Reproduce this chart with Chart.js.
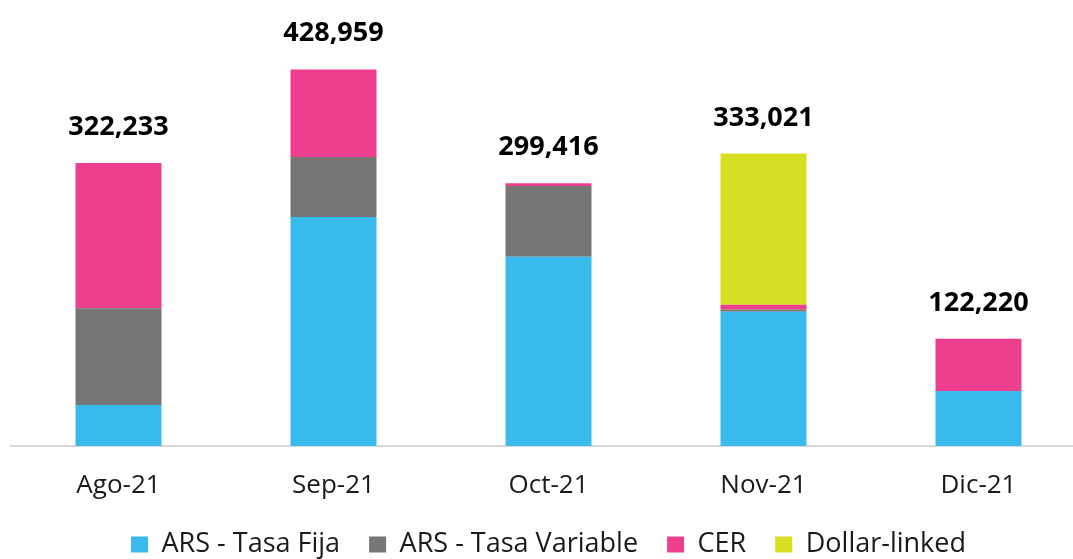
<!DOCTYPE html>
<html>
<head>
<meta charset="utf-8">
<script src="https://cdn.jsdelivr.net/npm/chart.js@4"></script>
<style>
  html, body { margin: 0; padding: 0; background: #fff; overflow: hidden; }
  #wrap { width: 1086px; height: 559px; }
</style>
</head>
<body>
<div id="wrap"><canvas id="chart" width="1086" height="559"></canvas></div>
<script>
// Monthly issuance by instrument type
var months = ['Ago-21', 'Sep-21', 'Oct-21', 'Nov-21', 'Dic-21'];
var tasaFija = [46700, 260700, 215500, 152800, 62700];
var tasaVariable = [110200, 68400, 80600, 2700, 0];
var cer = [165333, 99859, 3316, 5300, 59520];
var dollarLinked = [0, 0, 0, 172221, 0];
var totals = [322233, 428959, 299416, 333021, 122220];

var colors = {
  fija: '#38bbec',
  variable: '#767676',
  cer: '#ee3f8e',
  dollar: '#d7df23'
};

// Draw the total above each stacked bar
var totalLabels = {
  id: 'totalLabels',
  afterDatasetsDraw: function(chart) {
    var ctx = chart.ctx;
    var meta = chart.getDatasetMeta(0);
    var yScale = chart.scales.y;
    ctx.save();
    ctx.font = 'bold 27px "Open Sans"';
    ctx.fillStyle = '#000';
    ctx.textAlign = 'center';
    ctx.textBaseline = 'alphabetic';
    meta.data.forEach(function(bar, i) {
      var y = yScale.getPixelForValue(totals[i]);
      ctx.fillText(totals[i].toLocaleString('en-US'), bar.x, y - 28);
    });
    ctx.restore();
  }
};

function ds(label, data, color) {
  return {
    label: label,
    data: data,
    backgroundColor: color,
    borderWidth: 0,
    barPercentage: 0.4,
    categoryPercentage: 1
  };
}

new Chart(document.getElementById('chart').getContext('2d'), {
  type: 'bar',
  data: {
    labels: months,
    datasets: [
      ds('ARS - Tasa Fija', tasaFija, colors.fija),
      ds('ARS - Tasa Variable', tasaVariable, colors.variable),
      ds('CER', cer, colors.cer),
      ds('Dollar-linked', dollarLinked, colors.dollar)
    ]
  },
  options: {
    responsive: false,
    animation: false,
    layout: { padding: { left: 11, right: 0, top: 0, bottom: -9 } },
    plugins: {
      legend: {
        position: 'bottom',
        labels: {
          color: '#1a1a1a',
          font: { family: 'Open Sans', size: 27 },
          boxWidth: 17,
          boxHeight: 16,
          padding: 29
        }
      },
      tooltip: { enabled: false }
    },
    scales: {
      x: {
        stacked: true,
        grid: { display: false },
        border: { display: true, color: '#d9d9d9', width: 2 },
        ticks: {
          color: '#1a1a1a',
          font: { family: 'Open Sans', size: 26 },
          padding: 16
        },
        afterFit: function(scale) {
          scale.height = 56;
        }
      },
      y: {
        stacked: true,
        display: false,
        min: 0,
        max: 508000
      }
    }
  },
  plugins: [totalLabels]
});
</script>
</body>
</html>
